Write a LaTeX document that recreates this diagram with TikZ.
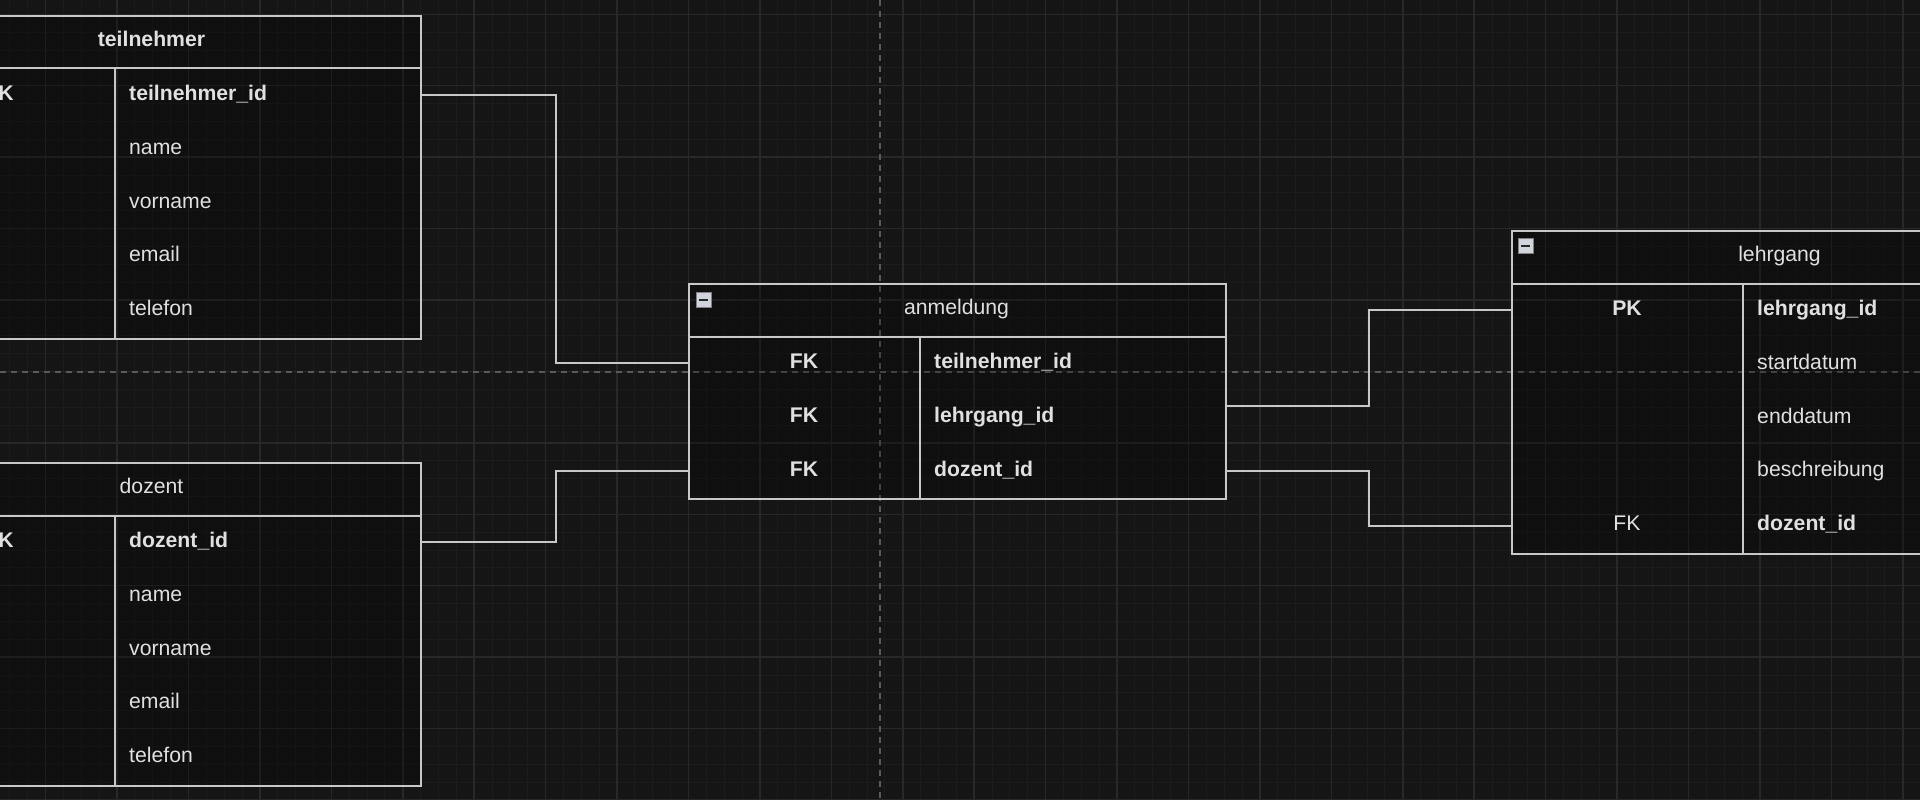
\documentclass[tikz,border=0pt]{standalone}
\usepackage{fontspec}
\setmainfont{Liberation Sans}
\usetikzlibrary{calc}

\definecolor{bgcol}{HTML}{151515}
\definecolor{minorcol}{HTML}{1C1C1C}
\definecolor{majorcol}{HTML}{282828}
\definecolor{pagecol}{HTML}{5A5A5A}
\definecolor{linecol}{HTML}{C8C8C8}
\definecolor{textcol}{HTML}{E0E0E0}
\definecolor{iconcol}{HTML}{D0D4DC}

\newcommand{\erfont}{\fontsize{21.2}{25}\selectfont}

\tikzset{
  tabbox/.style={draw=linecol, line width=2pt, fill=black, fill opacity=0.25,
    anchor=north west, inner sep=0pt, minimum width=537pt},
  tabline/.style={draw=linecol, line width=2pt},
  conn/.style={draw=linecol, line width=2pt},
  keytext/.style={anchor=center, inner sep=0pt, text height=10pt, text depth=0pt,
    text=textcol, font=\erfont},
  fieldtext/.style={keytext, anchor=west},
  pageline/.style={draw=pagecol, line width=1.2pt, dash pattern=on 6pt off 5pt},
  icon/.style={fill=iconcol, draw=gray, line width=0.8pt},
}

% header line and key column of a table
\newcommand{\erframe}[1]{%
  \draw[tabline] ($(#1.north west)+(0,53.5)$) -- ($(#1.north east)+(0,53.5)$);
  \draw[tabline] ($(#1.north west)+(232,53.5)$) -- ($(#1.south west)+(232,0)$);
}

\begin{document}
\begin{tikzpicture}[x=1pt, y=-1pt]
  \useasboundingbox (0,0) rectangle (1920,800);
  \clip (0,0) rectangle (1920,800);
  \fill[bgcol] (0,0) rectangle (1920,800);

  % background grid
  \begin{scope}[shift={(9.886,14.3)}]
    \draw[minorcol, line width=1pt, step=17.857pt] (-20,-20) grid (1930,810);
  \end{scope}
  \begin{scope}[shift={(45.6,14.3)}]
    \draw[majorcol, line width=1.5pt, step=71.43pt] (-80,-80) grid (1930,810);
  \end{scope}

  % page borders
  \draw[pageline] (880,0) -- (880,800);
  \draw[pageline] (0,372) -- (1920,372);

  % teilnehmer
  \node[tabbox, minimum height=322.5pt] (teil) at (-117,15) {};
  \erframe{teil}
  \node[keytext] (teil-title) at ($(teil.north west)+(268.5,26.75)$) {\textbf{teilnehmer}};
  \foreach \k/\f [count=\i] in {\textbf{PK}/\textbf{teilnehmer\_id}, /name, /vorname, /email, /telefon} {
    \node[keytext] (teil-k\i) at ($(teil.north west)+(116,{53.5+(\i-0.5)*53.8})$) {\k};
    \node[fieldtext] (teil-f\i) at ($(teil.north west)+(246,{53.5+(\i-0.5)*53.8})$) {\f};
  }

  % dozent
  \node[tabbox, minimum height=322.5pt] (doz) at (-117,462) {};
  \erframe{doz}
  \node[keytext] (doz-title) at ($(doz.north west)+(268.5,26.75)$) {dozent};
  \foreach \k/\f [count=\i] in {\textbf{PK}/\textbf{dozent\_id}, /name, /vorname, /email, /telefon} {
    \node[keytext] (doz-k\i) at ($(doz.north west)+(116,{53.5+(\i-0.5)*53.8})$) {\k};
    \node[fieldtext] (doz-f\i) at ($(doz.north west)+(246,{53.5+(\i-0.5)*53.8})$) {\f};
  }

  % anmeldung
  \node[tabbox, minimum height=214.9pt] (anm) at (688,283) {};
  \erframe{anm}
  \draw[icon] ($(anm.north west)+(8,9.5)$) rectangle ++(15,15);
  \draw[line width=2pt, black!85] ($(anm.north west)+(11,17)$) -- ++(9,0);
  \node[keytext] (anm-title) at ($(anm.north west)+(268.5,26.75)$) {anmeldung};
  \foreach \k/\f [count=\i] in {\textbf{FK}/\textbf{teilnehmer\_id}, \textbf{FK}/\textbf{lehrgang\_id}, \textbf{FK}/\textbf{dozent\_id}} {
    \node[keytext] (anm-k\i) at ($(anm.north west)+(116,{53.5+(\i-0.5)*53.8})$) {\k};
    \node[fieldtext] (anm-f\i) at ($(anm.north west)+(246,{53.5+(\i-0.5)*53.8})$) {\f};
  }

  % lehrgang
  \node[tabbox, minimum height=322.5pt] (lehr) at (1511,230) {};
  \erframe{lehr}
  \draw[icon] ($(lehr.north west)+(7,8.5)$) rectangle ++(15,15);
  \draw[line width=2pt, black!85] ($(lehr.north west)+(10,16)$) -- ++(9,0);
  \node[keytext] (lehr-title) at ($(lehr.north west)+(268.5,26.75)$) {lehrgang};
  \foreach \k/\f [count=\i] in {\textbf{PK}/\textbf{lehrgang\_id}, /startdatum, /enddatum, /beschreibung, FK/\textbf{dozent\_id}} {
    \node[keytext] (lehr-k\i) at ($(lehr.north west)+(116,{53.5+(\i-0.5)*53.8})$) {\k};
    \node[fieldtext] (lehr-f\i) at ($(lehr.north west)+(246,{53.5+(\i-0.5)*53.8})$) {\f};
  }

  % relations
  \draw[conn] (teil-f1 -| teil.east) -- ++(134,0) |- (anm-f1 -| anm.west);
  \draw[conn] (doz-f1 -| doz.east) -- ++(134,0) |- (anm-f3 -| anm.west);
  \draw[conn] ($(anm-f2 -| anm.east)+(0,-11)$) -- ++(142,0) |- (lehr-f1 -| lehr.west);
  \draw[conn] (anm-f3 -| anm.east) -- ++(142,0) |- (lehr-f5 -| lehr.west);
\end{tikzpicture}
\end{document}
